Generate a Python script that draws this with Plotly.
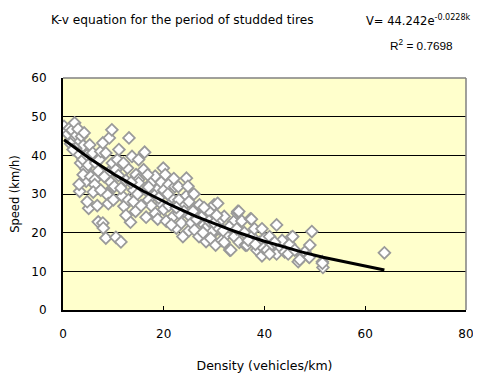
import math
import plotly.graph_objects as go

density = [
    0.2, 0.7, 1.0, 1.3, 1.8, 2.3, 2.0, 2.7, 3.0, 3.3, 3.7, 4.0, 4.2, 1.5, 2.5, 3.0, 3.5, 4.0, 4.5, 4.6,
    3.3, 3.2, 4.0, 2.0, 4.8, 5.3, 5.0, 5.1, 4.8, 5.5,
    5.9, 6.3, 6.3, 6.5, 7.0, 7.2, 7.5, 7.9, 7.0, 7.9, 8.0, 8.5, 8.5, 8.8, 8.8, 9.2, 9.0, 9.5, 9.7, 9.8,
    6.0, 7.5, 8.2, 9.0, 6.8,
    10.5, 10.5, 10.8, 11.1, 11.5, 11.8, 12.1, 12.5, 12.8, 13.1, 13.4, 13.7, 14.0, 14.4, 14.5, 15.0, 15.0,
    15.0, 10.2, 11.0, 12.0, 13.0, 14.0, 11.5, 12.5, 13.5, 14.8, 10.0,
    16.0, 16.2, 16.5, 17.0, 17.6, 18.3, 18.3, 18.3, 19.0, 19.5, 19.9, 20.3, 16.8, 17.5, 18.8, 19.5, 15.5,
    16.5, 19.0, 20.0, 17.0, 20.0,
    20.5, 21.0, 21.5, 21.9, 22.2, 22.5, 22.9, 23.5, 23.8, 24.0, 24.5, 24.5, 25.0, 25.0, 21.0, 22.0, 23.0,
    24.0, 21.5, 23.0, 24.8, 22.5, 20.8, 25.0,
    25.5, 26.1, 26.5, 27.1, 27.5, 28.0, 28.4, 28.7, 29.0, 29.5, 29.7, 30.0, 26.0, 27.0, 28.0, 29.0, 26.5,
    27.8, 30.0, 29.3, 25.8,
    30.3, 30.7, 31.0, 31.5, 32.0, 32.5, 33.1, 33.3, 33.9, 34.0, 34.6, 34.7, 34.9, 31.5, 33.0, 32.0, 34.5,
    35.0, 30.5, 31.8,
    35.5, 36.2, 36.5, 36.0, 37.2, 37.4, 37.5, 38.0, 38.5, 39.0, 39.5, 39.5, 40.0, 36.8, 38.2, 39.8,
    40.5, 41.0, 41.5, 42.4, 42.4, 43.0, 43.5, 44.0, 44.7, 45.3, 45.0, 41.0, 42.0,
    45.6, 46.0, 46.7, 47.5, 48.0, 48.8, 49.0, 49.4, 48.9, 51.5, 51.6, 51.5, 47.0,
    63.8,
]
speed = [
    47.5, 46.2, 45.5, 47.0, 46.5, 48.4, 44.0, 45.2, 46.8, 43.5, 44.9, 42.5, 45.8, 43.0, 41.8, 40.5, 38.0, 38.9, 36.5, 33.3,
    30.7, 32.5, 35.0, 41.5, 40.0, 42.7, 37.5, 26.3, 28.0, 34.5,
    40.6, 33.7, 32.4, 38.0, 36.0, 38.9, 41.0, 43.2, 22.8, 22.5, 21.2, 18.6, 40.6, 30.2, 29.8, 44.5, 35.5, 33.0, 46.6, 38.0,
    30.5, 31.0, 34.5, 27.5, 27.0,
    36.3, 18.8, 38.9, 41.5, 17.6, 29.4, 26.8, 33.5, 36.7, 44.5, 22.7, 39.7, 31.0, 25.5, 35.0, 38.9, 33.7,
    32.9, 32.0, 34.8, 38.0, 28.5, 28.0, 31.5, 24.5, 33.0, 30.0, 28.5,
    36.3, 40.8, 31.0, 28.5, 33.0, 34.6, 29.8, 25.0, 31.5, 27.5, 36.7, 35.0, 35.0, 27.0, 23.5, 33.0, 27.0,
    24.0, 29.0, 26.0, 31.8, 31.0,
    23.0, 32.5, 29.0, 24.2, 31.9, 21.2, 31.9, 22.5, 19.0, 27.0, 34.1, 29.5, 24.5, 20.5, 27.0, 34.0, 28.5,
    25.5, 22.0, 25.0, 32.0, 26.5, 30.0, 28.0,
    22.5, 20.7, 26.0, 27.2, 24.0, 22.0, 17.7, 21.6, 25.5, 19.5, 20.3, 27.2, 30.0, 19.0, 26.5, 23.0, 23.5,
    20.0, 22.5, 18.5, 25.5,
    16.8, 27.6, 21.0, 23.5, 24.2, 19.5, 15.5, 15.5, 22.9, 19.0, 25.0, 25.5, 25.5, 18.0, 21.5, 17.5, 21.0,
    17.5, 24.5, 20.5,
    23.0, 16.8, 16.8, 20.0, 23.6, 23.5, 19.0, 21.0, 15.5, 17.5, 21.0, 14.0, 18.5, 18.0, 17.0, 16.0,
    15.5, 19.0, 17.0, 22.0, 14.5, 16.5, 18.0, 15.0, 14.5, 18.8, 17.0, 14.5, 17.5,
    19.0, 15.5, 12.5, 14.0, 15.0, 13.8, 16.8, 20.3, 13.6, 12.5, 11.0, 12.1, 13.0,
    14.8,
]

# Fitted model shown on the chart: V = a * exp(b * k)
fit_a = 44.242
fit_b = -0.0228
trend_k = sorted(set(density))
trend_v = [fit_a * math.exp(fit_b * k) for k in trend_k]

x_ticks = [0, 20, 40, 60, 80]
y_ticks = [0, 10, 20, 30, 40, 50, 60]

title_text = "K-v equation for the period of studded tires"
eq_text = "V= 44.242e<sup>-0.0228k</sup>"
r2_text = "R<sup>2</sup> = 0.7698"

FONT = "DejaVu Sans"

fig = go.Figure()
fig.add_trace(go.Scatter(
    x=density, y=speed, mode="markers",
    marker=dict(symbol="diamond", size=9, color="white",
                line=dict(color="#9a9a9a", width=1.8)),
    showlegend=False, hoverinfo="skip",
))
fig.add_trace(go.Scatter(
    x=trend_k, y=trend_v, mode="lines",
    line=dict(color="black", width=3),
    showlegend=False, hoverinfo="skip",
))

# The page body has an 8px default margin, so the figure is sized/offset to compensate
fig.update_layout(
    width=473, height=366,
    margin=dict(l=55, r=15, t=70, b=64),
    paper_bgcolor="white",
    plot_bgcolor="#FFFFCC",
    font=dict(family=FONT, size=12, color="black"),
    xaxis=dict(
        range=[0, 80], tickvals=x_ticks, ticks="inside", ticklen=4, tickcolor="black",
        showgrid=False, zeroline=False, showline=True, linecolor="black", linewidth=2,
        tickfont=dict(size=12), ticklabelstandoff=12, automargin=False,
        ticklabeloverflow="allow",
        title=dict(text="Density (vehicles/km)", font=dict(size=12.5), standoff=21),
    ),
    yaxis=dict(
        range=[0, 60], tickvals=y_ticks, ticks="",
        showgrid=True, gridcolor="black", gridwidth=1,
        zeroline=False, showline=True, linecolor="black", linewidth=2,
        tickfont=dict(size=12), ticklabelstandoff=12, automargin=False,
        ticklabeloverflow="allow",
        title=dict(text="Speed (km/h)", font=dict(size=11.5), standoff=15),
    ),
    shapes=[
        dict(type="line", xref="paper", yref="paper", x0=0, x1=1, y0=1, y1=1,
             line=dict(color="#808080", width=1.5)),
        dict(type="line", xref="paper", yref="paper", x0=1, x1=1, y0=0, y1=1,
             line=dict(color="#808080", width=1.5)),
    ],
    annotations=[
        dict(text=title_text, xref="paper", yref="paper", x=-0.035, y=1.25,
             xanchor="left", yanchor="middle", showarrow=False, font=dict(size=12.2)),
        dict(text=eq_text, xref="paper", yref="paper", x=0.747, y=1.25,
             xanchor="left", yanchor="middle", showarrow=False, font=dict(size=11.5)),
        dict(text=r2_text, xref="paper", yref="paper", x=0.806, y=1.142,
             xanchor="left", yanchor="middle", showarrow=False,
             font=dict(size=11.8, family="Liberation Sans")),
    ],
)

fig.write_html("out.html")
